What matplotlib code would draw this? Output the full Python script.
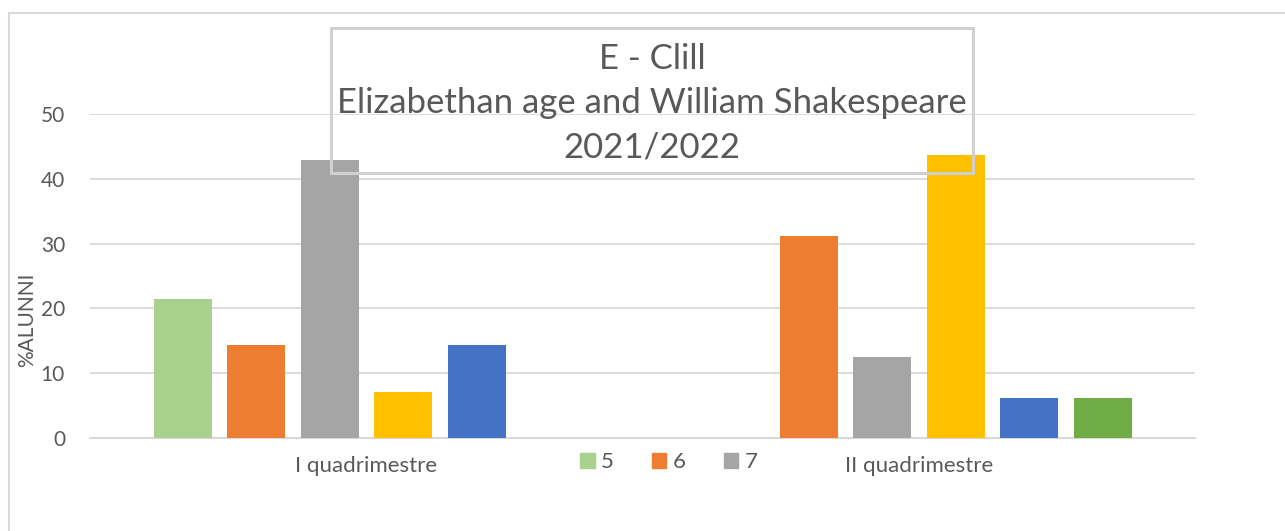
import matplotlib.pyplot as plt
import numpy as np
from matplotlib.patches import Rectangle, Patch

# ==========================================
# Data
# ==========================================

categories = ["I quadrimestre", "II quadrimestre"]
series = ["5", "6", "7", "8", "9", "10"]
values_q1 = [21.43, 14.29, 42.86, 7.14, 14.29, 0.0]
values_q2 = [0.0, 31.25, 12.5, 43.75, 6.25, 6.25]
colors = ["#A9D18E", "#ED7D31", "#A5A5A5", "#FFC000", "#4472C4", "#70AD47"]
legend_series = ["5", "6", "7"]
yticks = [0, 10, 20, 30, 40, 50]
title_lines = ["E - Clill", "Elizabethan age and William Shakespeare", "2021/2022"]

text_col = "#595959"
grid_col = "#D9D9D9"

plt.rcParams["font.family"] = ["Lato", "DejaVu Sans"]

# ==========================================
# Plot
# ==========================================

fig = plt.figure(figsize=(12.85, 5.31), dpi=100)
ax = fig.add_axes([90 / 1285, 93 / 531, 1105 / 1285, 324 / 531])

step = 73.5 / 552.5
width = 58 / 552.5
x = np.arange(len(categories))

for j, name in enumerate(series):
    vals = [values_q1[j], values_q2[j]]
    ax.bar(x + (j - 2.5) * step, vals, width=width, color=colors[j],
           label=name, zorder=3)

ax.set_xlim(-0.5, 1.5)
ax.set_ylim(0, 50)
ax.set_yticks(yticks)
ax.set_xticks(x)
ax.set_xticklabels(categories)
ax.tick_params(axis="both", length=0, colors=text_col)
ax.tick_params(axis="y", pad=18, labelsize=15)
ax.tick_params(axis="x", pad=13, labelsize=16)

ax.grid(axis="y", color=grid_col, linewidth=1.3, zorder=0)
for s in ["top", "right", "left"]:
    ax.spines[s].set_visible(False)
ax.spines["bottom"].set_color(grid_col)
ax.spines["bottom"].set_linewidth(1.5)

fig.text(27 / 1285, 1 - 320 / 531, "%ALUNNI", rotation=90, fontsize=15,
         color=text_col, ha="center", va="center")

handles = [Patch(color=colors[series.index(s)]) for s in legend_series]
fig.legend(handles, legend_series, loc="center", ncol=3, frameon=False,
           bbox_to_anchor=(669 / 1285, 1 - 462 / 531), fontsize=16,
           labelcolor=text_col, handlelength=0.65, handleheight=0.65,
           handletextpad=0.3, columnspacing=1.7)

# outer chart frame
fig.patches.append(Rectangle((9 / 1285, -0.1), 1.2, 1 - 13 / 531 + 0.1,
                             transform=fig.transFigure, fill=False,
                             edgecolor=grid_col, linewidth=1.5))

# title box
fig.patches.append(Rectangle((331 / 1285, 1 - 173 / 531), 642 / 1285, 145 / 531,
                             transform=fig.transFigure, fill=False,
                             edgecolor="#D0D0D0", linewidth=2.2, zorder=10))
fig.text(652 / 1285, 1 - 103 / 531, "\n".join(title_lines), fontsize=25,
         color=text_col, ha="center", va="center", linespacing=1.48, zorder=11)

plt.savefig("out.png", dpi=100)
